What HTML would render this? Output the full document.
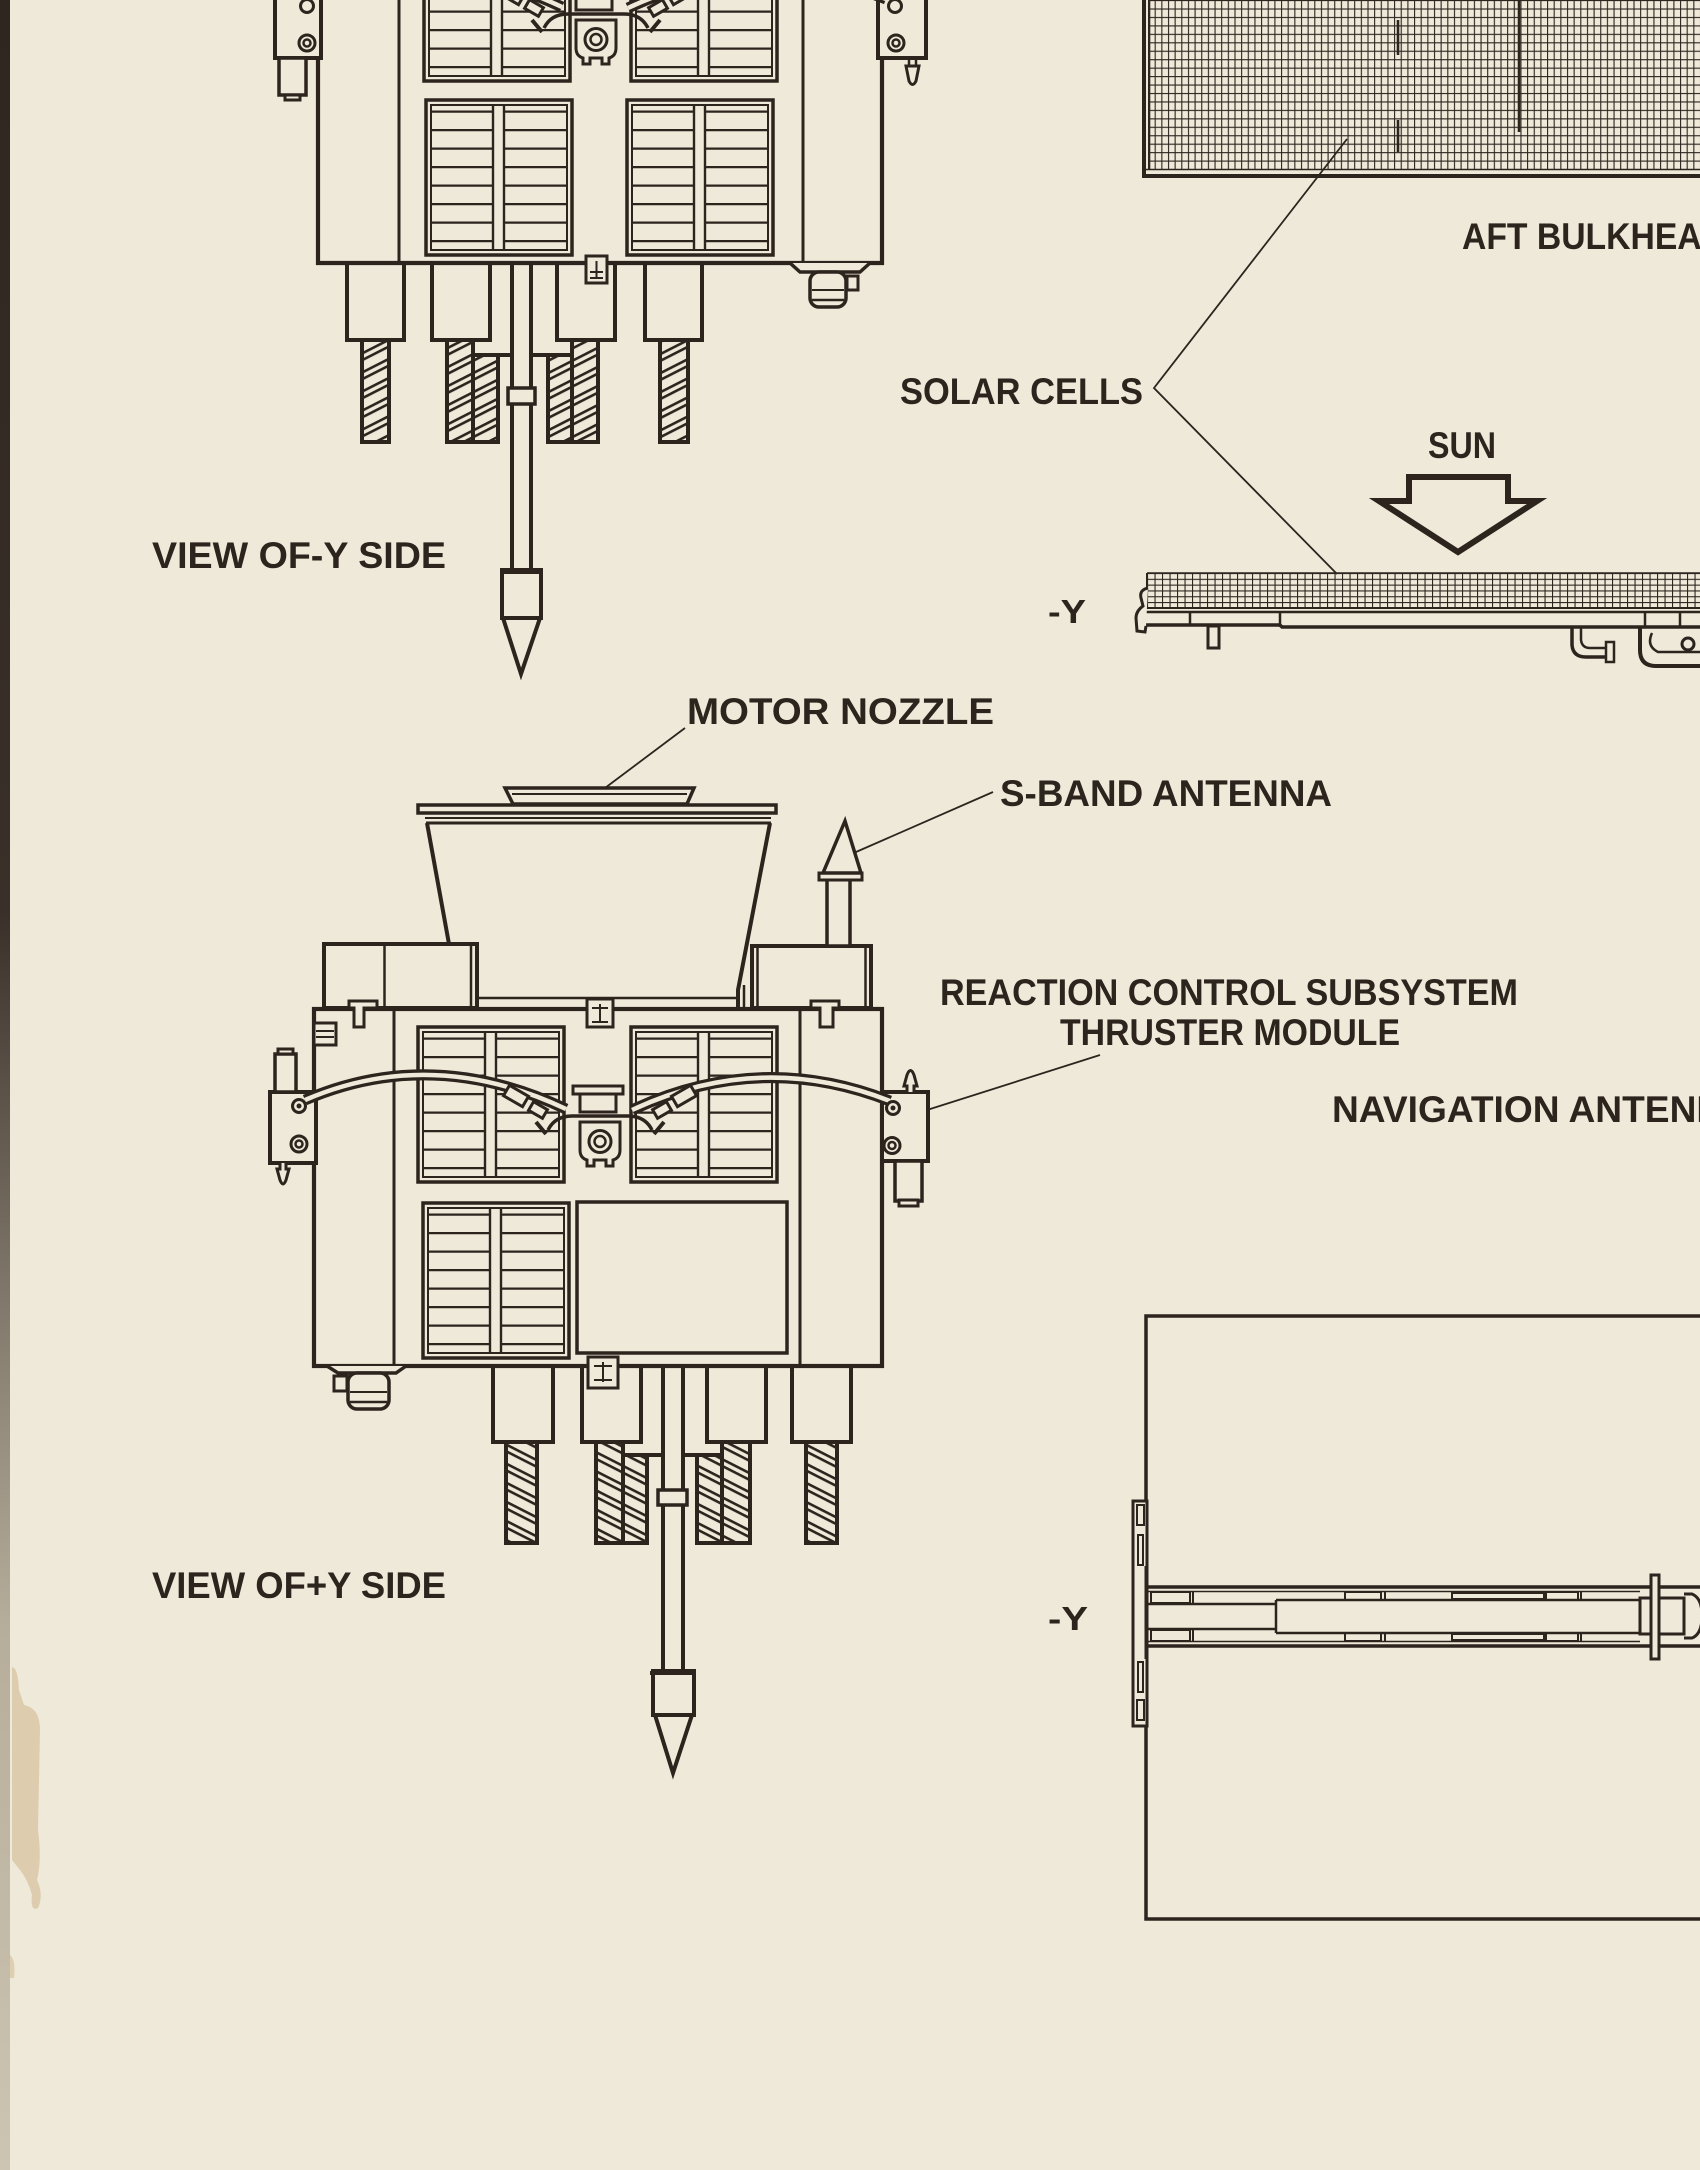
<!DOCTYPE html>
<html><head><meta charset="utf-8">
<style>
html,body{margin:0;padding:0;background:#efe9da;}
svg{display:block;}
text{font-family:"Liberation Sans",sans-serif;font-weight:bold;fill:#2d241e;}
</style></head><body>
<svg width="1700" height="2170" viewBox="0 0 1700 2170" xmlns="http://www.w3.org/2000/svg">
<defs>
 <linearGradient id="edge" x1="0" y1="0" x2="0" y2="1">
  <stop offset="0" stop-color="#2f2620"/>
  <stop offset="0.42" stop-color="#3a3029"/>
  <stop offset="0.58" stop-color="#7a7165"/>
  <stop offset="0.75" stop-color="#b7ad9b"/>
  <stop offset="1" stop-color="#cdc4b2"/>
 </linearGradient>
 <pattern id="gridA" patternUnits="userSpaceOnUse" x="1148" y="0" width="6.65" height="8.45">
  <path d="M0,0.5H6.65M0.5,0V8.45" stroke="#2d241e" stroke-width="1.2" fill="none"/>
 </pattern>
 <pattern id="gridB" patternUnits="userSpaceOnUse" x="1147" y="573" width="7.5" height="5.8">
  <path d="M0,0.5H7.5M0.5,0V5.8" stroke="#2d241e" stroke-width="1.2" fill="none"/>
 </pattern>
 <pattern id="hatchA" patternUnits="userSpaceOnUse" width="60" height="17" patternTransform="rotate(-27)">
  <rect x="0" y="2" width="60" height="2.6" fill="#2d241e"/>
  <rect x="0" y="8" width="60" height="2.6" fill="#2d241e"/>
 </pattern>
 <pattern id="hatchB" patternUnits="userSpaceOnUse" width="60" height="17" patternTransform="rotate(27)">
  <rect x="0" y="2" width="60" height="2.6" fill="#2d241e"/>
  <rect x="0" y="8" width="60" height="2.6" fill="#2d241e"/>
 </pattern>
 <g id="louver" fill="none" stroke="#2d241e">
  <rect x="0" y="0" width="146" height="155" stroke-width="3.5"/>
  <rect x="5" y="5" width="136" height="145" stroke-width="2"/>
  <line x1="67" y1="5" x2="67" y2="150" stroke-width="2.4"/>
  <line x1="78" y1="5" x2="78" y2="150" stroke-width="2.4"/>
  <path stroke-width="2.2" d="M5,11.6H67M78,11.6H141M5,30.1H67M78,30.1H141M5,48.6H67M78,48.6H141M5,67.1H67M78,67.1H141M5,85.6H67M78,85.6H141M5,104.1H67M78,104.1H141M5,122.6H67M78,122.6H141M5,141.1H67M78,141.1H141"/>
 </g>
 <g id="arms" stroke="#2d241e" fill="#efe9da">
  <path d="M305,1100 Q431.5,1045.5 566,1109" stroke-width="11" fill="none"/>
  <path d="M305,1100 Q431.5,1045.5 566,1109" stroke="#efe9da" stroke-width="4.5" fill="none"/>
  <path d="M632,1110 Q760.4,1050 890,1101" stroke-width="11" fill="none"/>
  <path d="M632,1110 Q760.4,1050 890,1101" stroke="#efe9da" stroke-width="4.5" fill="none"/>
  <rect x="-11" y="-6" width="22" height="12" transform="translate(516,1096) rotate(30)" stroke-width="3"/>
  <rect x="-8" y="-5" width="16" height="10" transform="translate(538,1110) rotate(30)" stroke-width="3"/>
  <path d="M536,1122 L546,1134" stroke-width="4" fill="none"/>
  <rect x="-11" y="-6" width="22" height="12" transform="translate(684,1096) rotate(-30)" stroke-width="3"/>
  <rect x="-8" y="-5" width="16" height="10" transform="translate(662,1110) rotate(-30)" stroke-width="3"/>
  <path d="M664,1122 L654,1134" stroke-width="4" fill="none"/>
  <path d="M548,1130 Q555,1116 572,1116 H628 Q645,1116 652,1130" stroke-width="3.5" fill="none"/>
  <rect x="573" y="1086" width="50" height="8" stroke-width="3"/>
  <rect x="580" y="1094" width="36" height="18" stroke-width="3"/>
  <path d="M580,1122 V1150 Q580,1158 587,1160 V1166 H594 V1160 H606 V1166 H613 V1160 Q620,1158 620,1150 V1122 Z" stroke-width="3"/>
  <circle cx="600" cy="1141.5" r="11" stroke-width="3"/>
  <circle cx="600" cy="1141.5" r="5.5" stroke-width="2.5"/>
 </g>
</defs>

<rect x="0" y="0" width="1700" height="2170" fill="#efe9da"/>
<!-- left binding edge -->
<rect x="0" y="0" width="10" height="2170" fill="url(#edge)"/>
<path d="M12,1667 Q18,1668 19,1690 L24,1705 Q40,1708 40,1730 L38,1830 Q42,1860 37,1880 Q44,1895 38,1908 Q30,1912 32,1895 Q28,1880 20,1870 L12,1860 Z" fill="#d9c8a6" opacity="0.85"/>
<path d="M10,1955 Q16,1960 14,1978 L10,1978 Z" fill="#d9c8a6" opacity="0.8"/>

<g stroke="#2d241e" fill="none" stroke-linecap="butt">

<!-- ================= TOP SPACECRAFT (-Y SIDE) ================= -->
 <line x1="318" y1="-5" x2="318" y2="265" stroke-width="4.2"/>
 <line x1="882" y1="-5" x2="882" y2="265" stroke-width="4.2"/>
 <line x1="316" y1="263" x2="884" y2="263" stroke-width="4.2"/>
 <line x1="399" y1="-5" x2="399" y2="263" stroke-width="3"/>
 <line x1="803" y1="-5" x2="803" y2="263" stroke-width="3"/>
 <use href="#louver" x="424" y="-74"/>
 <use href="#louver" x="631" y="-74"/>
 <use href="#louver" x="426" y="100"/>
 <use href="#louver" x="627" y="100"/>
 <!-- modules -->
 <rect x="275" y="-30" width="46" height="88" fill="#efe9da" stroke-width="4"/>
 <rect x="878" y="-30" width="48" height="88" fill="#efe9da" stroke-width="4"/>
 <use href="#arms" transform="translate(-4,-1102)"/>
 <circle cx="307" cy="6" r="6.5" stroke-width="3" fill="#efe9da"/>
 <circle cx="307" cy="43" r="8" stroke-width="3" fill="#efe9da"/>
 <circle cx="307" cy="43" r="3.5" stroke-width="2.5"/>
 <circle cx="895" cy="6" r="6.5" stroke-width="3" fill="#efe9da"/>
 <circle cx="896" cy="43" r="8" stroke-width="3" fill="#efe9da"/>
 <circle cx="896" cy="43" r="3.5" stroke-width="2.5"/>
 <!-- left cylinder -->
 <rect x="279" y="58" width="27" height="37" stroke-width="3.5" fill="#efe9da"/>
 <rect x="285" y="95" width="15" height="5" stroke-width="3" fill="#efe9da"/>
 <!-- right nozzle -->
 <rect x="909" y="58" width="7" height="8" stroke-width="2.5"/>
 <path d="M906,66 H919 L916,81 Q912.5,88 909,81 Z" stroke-width="3" fill="#efe9da"/>
 <!-- thruster boxes -->
 <rect x="347" y="263" width="57" height="77" stroke-width="4"/>
 <rect x="432" y="263" width="58" height="77" stroke-width="4"/>
 <rect x="557" y="263" width="58" height="77" stroke-width="4"/>
 <rect x="645" y="263" width="57" height="77" stroke-width="4"/>
 <!-- hatched -->
 <rect x="362" y="340" width="27" height="102" fill="url(#hatchA)" stroke-width="4"/>
 <rect x="447" y="340" width="26" height="102" fill="url(#hatchA)" stroke-width="4"/>
 <rect x="473" y="355" width="25" height="87" fill="url(#hatchA)" stroke-width="4"/>
 <rect x="548" y="355" width="24" height="87" fill="url(#hatchA)" stroke-width="4"/>
 <rect x="572" y="340" width="26" height="102" fill="url(#hatchA)" stroke-width="4"/>
 <rect x="660" y="340" width="28" height="102" fill="url(#hatchA)" stroke-width="4"/>
 <line x1="496" y1="355" x2="512" y2="355" stroke-width="4"/>
 <line x1="530" y1="355" x2="550" y2="355" stroke-width="4"/>
 <!-- tube -->
 <line x1="512" y1="263" x2="512" y2="571" stroke-width="4"/>
 <line x1="531" y1="263" x2="531" y2="571" stroke-width="4"/>
 <rect x="508" y="388" width="27" height="16" fill="#efe9da" stroke-width="3.5"/>
 <rect x="502" y="570" width="39" height="48" fill="#efe9da" stroke-width="4"/>
 <line x1="500" y1="572" x2="543" y2="572" stroke-width="4"/>
 <polygon points="503,618 540,618 521,674" fill="#efe9da" stroke-width="4" stroke-linejoin="miter"/>
 <!-- plus box -->
 <rect x="586" y="256" width="21" height="27" fill="#efe9da" stroke-width="3"/>
 <line x1="596.5" y1="261" x2="596.5" y2="277" stroke-width="2"/>
 <line x1="590" y1="272" x2="603" y2="272" stroke-width="2"/>
 <line x1="590" y1="278" x2="603" y2="278" stroke-width="2"/>
 <!-- right bottom bracket -->
 <path d="M790,263 L800,272 H860 L870,263" fill="#efe9da" stroke-width="3.5"/>
 <rect x="810" y="272" width="36" height="35" rx="9" fill="#efe9da" stroke-width="3.5"/>
 <line x1="812" y1="290" x2="844" y2="290" stroke-width="2"/>
 <line x1="812" y1="300" x2="844" y2="300" stroke-width="2.5"/>
 <rect x="847" y="276" width="11" height="14" stroke-width="3"/>

<!-- ================= SOLAR PANEL TOP RIGHT ================= -->
 <rect x="1148" y="-2" width="560" height="171" fill="url(#gridA)" stroke="none"/>
 <line x1="1144" y1="-2" x2="1144" y2="178" stroke-width="4"/>
 <line x1="1149.5" y1="-2" x2="1149.5" y2="170" stroke-width="1.6"/>
 <line x1="1144" y1="169.5" x2="1700" y2="169.5" stroke-width="1.6"/>
 <line x1="1142" y1="176" x2="1700" y2="176" stroke-width="4"/>
 <line x1="1398" y1="20" x2="1398" y2="55" stroke-width="2.6"/>
 <line x1="1398" y1="120" x2="1398" y2="152" stroke-width="2.6"/>
 <line x1="1519" y1="0" x2="1519" y2="132" stroke-width="2.6"/>
 <!-- solar cells leaders -->
 <polyline points="1347,139 1154,388 1337,574" stroke-width="1.8"/>
 <!-- sun arrow -->
 <polygon points="1409,477 1508,477 1508,501 1537,501 1458,552 1379,501 1409,501" stroke-width="6" stroke-linejoin="miter"/>
 <!-- edge-on panel -->
 <rect x="1147" y="573" width="560" height="34" fill="url(#gridB)" stroke="none"/>
 <line x1="1147" y1="573" x2="1700" y2="573" stroke-width="1.6"/>
 <line x1="1147" y1="573" x2="1147" y2="608" stroke-width="2"/>
 <line x1="1140" y1="608" x2="1700" y2="608" stroke-width="2"/>
 <line x1="1140" y1="612" x2="1700" y2="612" stroke-width="2.5"/>
 <path d="M1143,625 H1280 L1282,627 H1700" stroke-width="3.5"/>
 <line x1="1190" y1="612" x2="1190" y2="625" stroke-width="2.5"/>
 <line x1="1280" y1="612" x2="1280" y2="627" stroke-width="2.5"/>
 <line x1="1645" y1="612" x2="1645" y2="627" stroke-width="2.5"/>
 <line x1="1680" y1="612" x2="1680" y2="627" stroke-width="2.5"/>
 <path d="M1148,588 Q1139,590 1141,598 L1143,606 Q1136,611 1136,618 L1137,631 L1145,632 L1146,626" stroke-width="3" fill="#efe9da"/>
 <rect x="1208" y="626" width="11" height="22" fill="#efe9da" stroke-width="3"/>
 <path d="M1572,627 V645 Q1573,657 1586,657 H1612" stroke-width="3.5"/>
 <path d="M1581,627 V640 Q1582,648 1590,648 H1612" stroke-width="2.5"/>
 <rect x="1606" y="642" width="8" height="20" stroke-width="2.5" fill="#efe9da"/>
 <path d="M1640,627 V650 Q1640,666 1656,666 H1700" stroke-width="4"/>
 <path d="M1652,633 Q1646,646 1658,652 H1700" stroke-width="2.5"/>
 <circle cx="1688" cy="644" r="6" stroke-width="3"/>

<!-- ================= BOTTOM SPACECRAFT (+Y SIDE) ================= -->
 <!-- nozzle -->
 <polygon points="505,788 694,788 687,804 513,804" fill="#efe9da" stroke-width="3.5"/>
 <line x1="512" y1="794" x2="687" y2="794" stroke-width="2"/>
 <rect x="418" y="805" width="358" height="8" fill="#efe9da" stroke-width="3.5"/>
 <line x1="425" y1="818" x2="771" y2="818" stroke-width="2"/>
 <line x1="426" y1="823" x2="771" y2="823" stroke-width="3"/>
 <line x1="427" y1="823" x2="449" y2="944" stroke-width="4"/>
 <polyline points="770,823 738,990 738,1007" stroke-width="4"/>
 <line x1="744" y1="985" x2="744" y2="1007" stroke-width="2.5"/>
 <line x1="477" y1="998" x2="740" y2="998" stroke-width="2.5"/>
 <!-- side boxes -->
 <rect x="324" y="944" width="153" height="64" fill="#efe9da" stroke-width="4"/>
 <line x1="384.5" y1="946" x2="384.5" y2="1007" stroke-width="2.5"/>
 <line x1="471" y1="946" x2="471" y2="1007" stroke-width="2.5"/>
 <rect x="752" y="946" width="119" height="62" fill="#efe9da" stroke-width="4"/>
 <line x1="757.5" y1="948" x2="757.5" y2="1007" stroke-width="2.5"/>
 <line x1="865.5" y1="948" x2="865.5" y2="1007" stroke-width="2.5"/>
 <!-- antenna -->
 <rect x="827" y="879" width="23" height="67" fill="#efe9da" stroke-width="3.5"/>
 <rect x="819" y="873" width="43" height="7" fill="#efe9da" stroke-width="3"/>
 <polygon points="845,821 823,873 861,873" fill="#efe9da" stroke-width="3.5" stroke-linejoin="miter"/>
 <!-- body -->
 <rect x="314" y="1009" width="568" height="357" stroke-width="4.2"/>
 <line x1="394" y1="1009" x2="394" y2="1366" stroke-width="3"/>
 <line x1="800" y1="1009" x2="800" y2="1366" stroke-width="3"/>
 <use href="#louver" x="418" y="1027"/>
 <use href="#louver" x="631" y="1027"/>
 <use href="#louver" x="423" y="1203"/>
 <rect x="577" y="1202" width="210" height="151" stroke-width="3.5"/>
 <!-- plus box top -->
 <rect x="587" y="999" width="26" height="28" fill="#efe9da" stroke-width="3"/>
 <line x1="600" y1="1004" x2="600" y2="1021" stroke-width="2"/>
 <line x1="592" y1="1008" x2="608" y2="1008" stroke-width="2"/>
 <line x1="592" y1="1022" x2="608" y2="1022" stroke-width="2"/>
 <!-- T brackets -->
 <path d="M349,1001 H377 V1008 H364 V1027 H354 V1008 H349 Z" fill="#efe9da" stroke-width="3"/>
 <path d="M811,1001 H839 V1008 H833 V1027 H820 V1008 H811 Z" fill="#efe9da" stroke-width="3"/>
 <rect x="314" y="1023" width="22" height="22" fill="#efe9da" stroke-width="3"/>
 <line x1="316" y1="1031" x2="334" y2="1031" stroke-width="2"/>
 <line x1="316" y1="1037" x2="334" y2="1037" stroke-width="2"/>
 <!-- modules -->
 <rect x="270" y="1092" width="46" height="71" fill="#efe9da" stroke-width="4"/>
 <rect x="882" y="1092" width="46" height="69" fill="#efe9da" stroke-width="4"/>
 <use href="#arms"/>
 <circle cx="299" cy="1106" r="6.5" stroke-width="3" fill="#efe9da"/>
 <circle cx="299" cy="1106" r="2.5" fill="#2d241e" stroke="none"/>
 <circle cx="299" cy="1144" r="8" stroke-width="3" fill="#efe9da"/>
 <circle cx="299" cy="1144" r="3.5" stroke-width="2.5"/>
 <circle cx="893" cy="1108" r="6.5" stroke-width="3" fill="#efe9da"/>
 <circle cx="893" cy="1108" r="2.5" fill="#2d241e" stroke="none"/>
 <circle cx="892" cy="1145.5" r="8" stroke-width="3" fill="#efe9da"/>
 <circle cx="892" cy="1145.5" r="3.5" stroke-width="2.5"/>
 <!-- left module cylinder & nozzle -->
 <rect x="275" y="1054" width="21" height="38" fill="#efe9da" stroke-width="3.5"/>
 <rect x="278" y="1049" width="15" height="5" fill="#efe9da" stroke-width="3"/>
 <path d="M280,1163 V1169 H277 L280,1180 Q283,1188 286,1180 L289,1169 H286 V1163" fill="#efe9da" stroke-width="3"/>
 <!-- right module nozzle & cylinder -->
 <path d="M907,1092 V1086 H904 L907,1075 Q910.5,1066 914,1075 L917,1086 H914 V1092" fill="#efe9da" stroke-width="3"/>
 <rect x="895" y="1161" width="27" height="40" fill="#efe9da" stroke-width="3.5"/>
 <rect x="899" y="1200" width="19" height="6" fill="#efe9da" stroke-width="3"/>
 <!-- thruster boxes -->
 <rect x="493" y="1366" width="60" height="76" stroke-width="4"/>
 <rect x="582" y="1366" width="59" height="76" stroke-width="4"/>
 <rect x="707" y="1366" width="59" height="76" stroke-width="4"/>
 <rect x="792" y="1366" width="59" height="76" stroke-width="4"/>
 <rect x="506" y="1442" width="31" height="101" fill="url(#hatchB)" stroke-width="4"/>
 <rect x="596" y="1442" width="27" height="101" fill="url(#hatchB)" stroke-width="4"/>
 <rect x="623" y="1455" width="24" height="88" fill="url(#hatchB)" stroke-width="4"/>
 <rect x="697" y="1455" width="25" height="88" fill="url(#hatchB)" stroke-width="4"/>
 <rect x="722" y="1442" width="28" height="101" fill="url(#hatchB)" stroke-width="4"/>
 <rect x="806" y="1442" width="31" height="101" fill="url(#hatchB)" stroke-width="4"/>
 <line x1="645" y1="1455" x2="663" y2="1455" stroke-width="4"/>
 <line x1="682" y1="1455" x2="699" y2="1455" stroke-width="4"/>
 <!-- tube -->
 <line x1="663" y1="1366" x2="663" y2="1672" stroke-width="4"/>
 <line x1="683" y1="1366" x2="683" y2="1672" stroke-width="4"/>
 <rect x="658" y="1490" width="29" height="15" fill="#efe9da" stroke-width="3.5"/>
 <rect x="653" y="1671" width="41" height="44" fill="#efe9da" stroke-width="4"/>
 <line x1="650" y1="1673" x2="696" y2="1673" stroke-width="4"/>
 <polygon points="655,1715 692,1715 673,1773" fill="#efe9da" stroke-width="4" stroke-linejoin="miter"/>
 <!-- plus box bottom -->
 <rect x="588" y="1357" width="30" height="31" fill="#efe9da" stroke-width="3"/>
 <line x1="603" y1="1362" x2="603" y2="1382" stroke-width="2"/>
 <line x1="594" y1="1366" x2="612" y2="1366" stroke-width="2"/>
 <line x1="594" y1="1380" x2="612" y2="1380" stroke-width="2"/>
 <!-- left bottom bracket -->
 <path d="M327,1366 L338,1373 H396 L406,1366" fill="#efe9da" stroke-width="3.5"/>
 <rect x="348" y="1373" width="41" height="36" rx="9" fill="#efe9da" stroke-width="3.5"/>
 <line x1="350" y1="1392" x2="387" y2="1392" stroke-width="2"/>
 <line x1="350" y1="1402" x2="387" y2="1402" stroke-width="2.5"/>
 <rect x="334" y="1376" width="13" height="15" stroke-width="3"/>

 <!-- leaders bottom -->
 <line x1="685" y1="728" x2="605" y2="788" stroke-width="1.8"/>
 <line x1="993" y1="792" x2="856" y2="852" stroke-width="1.8"/>
 <line x1="1100" y1="1055" x2="927" y2="1110" stroke-width="1.8"/>

<!-- ================= BOTTOM RIGHT PANEL ================= -->
 <rect x="1146" y="1316" width="600" height="603" stroke-width="3.5"/>
 <line x1="1146" y1="1587" x2="1700" y2="1587" stroke-width="3.5"/>
 <line x1="1146" y1="1646" x2="1700" y2="1646" stroke-width="3.5"/>
 <line x1="1148" y1="1591.5" x2="1640" y2="1591.5" stroke-width="1.6"/>
 <line x1="1148" y1="1641.5" x2="1640" y2="1641.5" stroke-width="1.6"/>
 <line x1="1148" y1="1604" x2="1276" y2="1604" stroke-width="2.5"/>
 <line x1="1148" y1="1629" x2="1276" y2="1629" stroke-width="2.5"/>
 <line x1="1276" y1="1600" x2="1640" y2="1600" stroke-width="2.5"/>
 <line x1="1276" y1="1633" x2="1640" y2="1633" stroke-width="2.5"/>
 <line x1="1276" y1="1600" x2="1276" y2="1633" stroke-width="2.5"/>
 <rect x="1151" y="1592" width="39" height="11" stroke-width="2"/>
 <rect x="1151" y="1630" width="39" height="11" stroke-width="2"/>
 <line x1="1193" y1="1591" x2="1193" y2="1604" stroke-width="2"/>
 <line x1="1193" y1="1629" x2="1193" y2="1642" stroke-width="2"/>
 <rect x="1345" y="1592" width="36" height="8" stroke-width="2"/>
 <rect x="1345" y="1633" width="36" height="8" stroke-width="2"/>
 <line x1="1385" y1="1591" x2="1385" y2="1600" stroke-width="2"/>
 <line x1="1385" y1="1633" x2="1385" y2="1642" stroke-width="2"/>
 <rect x="1452" y="1593" width="92" height="6" stroke-width="2"/>
 <rect x="1452" y="1634" width="92" height="6" stroke-width="2"/>
 <rect x="1546" y="1592" width="32" height="8" stroke-width="2"/>
 <rect x="1546" y="1633" width="32" height="8" stroke-width="2"/>
 <line x1="1581" y1="1591" x2="1581" y2="1600" stroke-width="2"/>
 <line x1="1581" y1="1633" x2="1581" y2="1642" stroke-width="2"/>
 <rect x="1640" y="1598" width="44" height="36" fill="#efe9da" stroke-width="3"/>
 <rect x="1651" y="1575" width="8" height="84" fill="#efe9da" stroke-width="3"/>
 <path d="M1684,1594 H1692 Q1702,1598 1702,1616 Q1702,1634 1692,1638 H1684" stroke-width="3"/>
 <!-- hinge plate -->
 <rect x="1133" y="1501" width="14" height="225" fill="#efe9da" stroke-width="3"/>
 <rect x="1137" y="1505" width="7" height="20" stroke-width="2"/>
 <rect x="1138" y="1535" width="5" height="30" stroke-width="2"/>
 <rect x="1138" y="1662" width="5" height="30" stroke-width="2"/>
 <rect x="1137" y="1700" width="7" height="20" stroke-width="2"/>
 <line x1="1146" y1="1566" x2="1146" y2="1659" stroke-width="3"/>
</g>

<!-- ================= TEXT ================= -->
<text x="152" y="568" font-size="37" textLength="294" lengthAdjust="spacingAndGlyphs">VIEW OF-Y SIDE</text>
<text x="900" y="404" font-size="37" textLength="243" lengthAdjust="spacingAndGlyphs">SOLAR CELLS</text>
<text x="1462" y="249" font-size="37" textLength="264" lengthAdjust="spacingAndGlyphs">AFT BULKHEAD</text>
<text x="1428" y="458" font-size="37" textLength="68" lengthAdjust="spacingAndGlyphs">SUN</text>
<text x="1048" y="623" font-size="33" textLength="38" lengthAdjust="spacingAndGlyphs">-Y</text>
<text x="687" y="724" font-size="37" textLength="307" lengthAdjust="spacingAndGlyphs">MOTOR NOZZLE</text>
<text x="1000" y="806" font-size="37" textLength="332" lengthAdjust="spacingAndGlyphs">S-BAND ANTENNA</text>
<text x="940" y="1005" font-size="37" textLength="578" lengthAdjust="spacingAndGlyphs">REACTION CONTROL SUBSYSTEM</text>
<text x="1060" y="1045" font-size="37" textLength="340" lengthAdjust="spacingAndGlyphs">THRUSTER MODULE</text>
<text x="1332" y="1122" font-size="37" textLength="418" lengthAdjust="spacingAndGlyphs">NAVIGATION ANTENNA</text>
<text x="152" y="1598" font-size="37" textLength="294" lengthAdjust="spacingAndGlyphs">VIEW OF+Y SIDE</text>
<text x="1048" y="1630" font-size="33" textLength="40" lengthAdjust="spacingAndGlyphs">-Y</text>
</svg>
</body></html>
